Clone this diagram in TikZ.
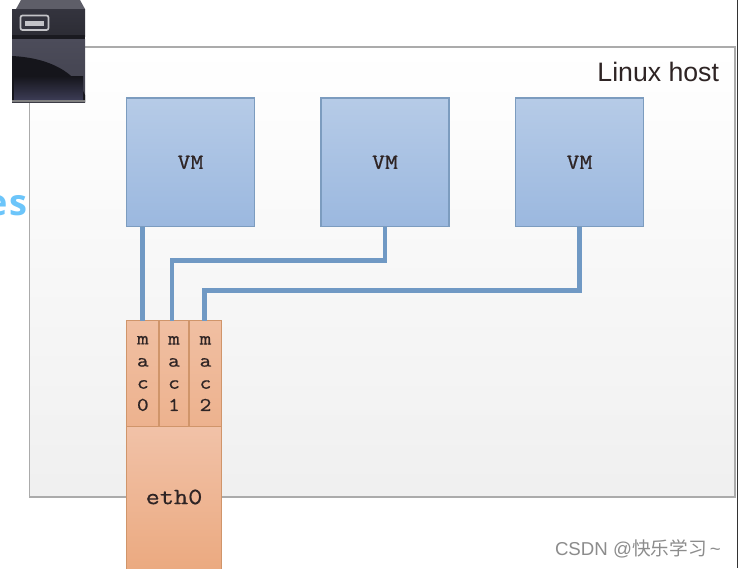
\documentclass[tikz,border=0pt]{standalone}
\usepackage{fontspec}
\setmainfont{Liberation Sans}
\setmonofont{Latin Modern Mono}[FakeStretch=1.18,FakeBold=0.7]
\newfontfamily\labelfont{Open Sans}
\newfontfamily\cjkfont{Noto Sans CJK SC}
\definecolor{hostline}{HTML}{ABABAB}
\definecolor{vmline}{HTML}{7C9CBF}
\definecolor{wire}{HTML}{7099C4}
\definecolor{nicline}{HTML}{D0956A}
\definecolor{ink}{HTML}{2E2424}
\definecolor{vmtop}{HTML}{B6CBE7}
\definecolor{vmbot}{HTML}{9BB8DF}
\definecolor{mactop}{HTML}{F0BFA2}
\definecolor{macbot}{HTML}{EDB28E}
\definecolor{ethtop}{HTML}{F1C2A8}
\definecolor{ethbot}{HTML}{EBA97F}
\definecolor{srvcap}{HTML}{5E5E68}
\definecolor{srvupper}{HTML}{34343E}
\definecolor{srvband}{HTML}{1A1A20}
\definecolor{srvlight}{HTML}{4C4C5A}
\definecolor{srvdark}{HTML}{15151B}
\definecolor{srvfoot}{HTML}{3C3C55}
\definecolor{slotline}{HTML}{C4C4C8}
\definecolor{fragment}{HTML}{6CC5FA}
\tikzset{
  x=0.75pt,y=-0.75pt,
  px/.style={inner sep=0pt,outer sep=0pt},
  vmbox/.style={px,draw=vmline,line width=1pt,top color=vmtop,bottom color=vmbot,
    minimum width=96pt,minimum height=96.5pt,font=\ttfamily\fontsize{16}{16}\selectfont,text=ink},
  macbox/.style={px,draw=nicline,line width=0.9pt,top color=mactop,bottom color=macbot,
    minimum height=79.5pt,align=center,font=\ttfamily\fontsize{14.5}{16.6}\selectfont,text=ink},
  link/.style={draw=wire,line width=3.6pt,line join=miter},
}
\begin{document}
\begin{tikzpicture}
\useasboundingbox (0,0) rectangle (738,568);
\clip (0,0) rectangle (738,568);
\fill[white] (0,0) rectangle (738,568);

% host machine frame
\node[px,draw=hostline,line width=1pt,top color=white,bottom color=black!6,
  minimum width=529pt,minimum height=337.5pt,anchor=north west] (host) at (29.5,47) {};
\node[px,anchor=east,font=\fontsize{20}{20}\selectfont,text=ink] (hostlabel) at (719,72) {Linux host};

% side label fragment, running in from the left edge
\node[px,anchor=base east,font=\labelfont\bfseries\fontsize{27}{27}\selectfont,text=fragment] (frag) at (27.5,215) {e\kern1.5pt s};

% server icon
\fill[srvcap] (16,9) -- (21,0) -- (80,0) -- (85,9) -- cycle;
\shade[top color=srvupper,bottom color=srvupper!85!black] (12,9) rectangle (85,36);
\fill[srvband] (12,35) rectangle (85,39);
\shade[top color=srvlight,bottom color=srvlight!85!black] (12,39) rectangle (85,102);
\fill[srvdark] (12,56) .. controls (50,58) and (75,72) .. (85,95)
  -- (85,102) -- (12,102) -- cycle;
\shade[top color=srvdark,bottom color=srvfoot] (14,76) rectangle (83,100);
\fill[black!50] (12,100) rectangle (85,102);
\draw[slotline,line width=1.3pt,fill=srvupper,rounded corners=1.5pt] (20.5,15.5) rectangle (48.5,30);
\fill[slotline] (25,21) rectangle (44,25.5);

% virtual machines
\node[vmbox,anchor=north west] (vm1) at (126.5,98) {VM};
\node[vmbox,anchor=north west] (vm2) at (321,98) {VM};
\node[vmbox,anchor=north west] (vm3) at (515.5,98) {VM};

% physical interface with its MAC slots
\node[macbox,minimum width=24.5pt,anchor=north west] (mac0) at (126.5,320.5) {m\\a\\c\\0};
\node[macbox,minimum width=22.5pt,anchor=north west] (mac1) at (159,320.5) {m\\a\\c\\1};
\node[macbox,minimum width=24pt,anchor=north west] (mac2) at (189.5,320.5) {m\\a\\c\\2};
\node[px,draw=nicline,line width=0.9pt,top color=ethtop,bottom color=ethbot,
  minimum width=71.5pt,minimum height=110pt,anchor=north west] (eth) at (126.5,426.5) {};
\node[px,font=\ttfamily\fontsize{17.5}{17.5}\selectfont,text=ink] (ethlabel) at (174,497) {eth0};

% links from each VM to its MAC slot
\draw[link] (vm1.south -| mac0.north) -- (mac0.north);
\draw[link] (vm2.south) -- ++(0,34) -| ([xshift=-1.5pt]mac1.north);
\draw[link] (vm3.south) -- ++(0,64) -| ([xshift=-1pt]mac2.north);

% watermark
\node[px,anchor=west,text=black!45,font=\fontsize{14}{14}\selectfont] (mark) at (555,549)
  {CSDN @{\cjkfont 快乐学习}\,\textasciitilde};

% window edge
\fill[black!80] (736.5,0) rectangle (738,568);
\end{tikzpicture}
\end{document}
